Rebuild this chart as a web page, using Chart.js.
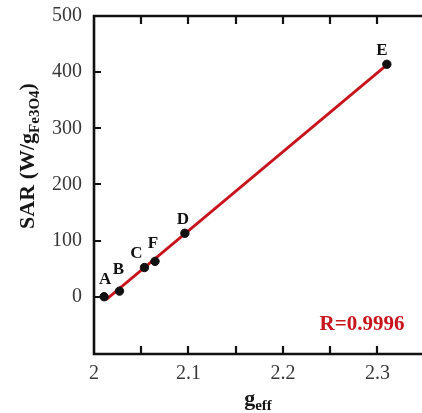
<!DOCTYPE html>
<html><head><meta charset="utf-8">
<script src="https://cdn.jsdelivr.net/npm/chart.js@4"></script>
<style>html,body{margin:0;padding:0;background:#fff;overflow:hidden}#wrap{width:422px;height:413px}</style>
</head><body><div id="wrap"><canvas id="c" width="422" height="413"></canvas></div>
<script>
// Samples: effective g-factor vs specific absorption rate
const sampleNames = ['A', 'B', 'C', 'F', 'D', 'E'];
const gEff = [2.0107, 2.027, 2.0534, 2.0646, 2.0962, 2.310];
const sar = [0, 10, 52, 63, 113, 414];
const xTickLabels = [2.0, 2.1, 2.2, 2.3];
const xMinorTicks = [2.05, 2.1, 2.15, 2.2, 2.25, 2.3];
const yTickLabels = [0, 100, 200, 300, 400, 500];
const fitRange = [2.0125, 2.31];
const rText = 'R=0.9996';

// least-squares line through the samples
function linearFit(xs, ys) {
  const n = xs.length;
  const mx = xs.reduce((a, b) => a + b, 0) / n;
  const my = ys.reduce((a, b) => a + b, 0) / n;
  let sxy = 0, sxx = 0;
  for (let i = 0; i < n; i++) { sxy += (xs[i] - mx) * (ys[i] - my); sxx += (xs[i] - mx) ** 2; }
  const m = sxy / sxx;
  return { m, b: my - m * mx };
}
const fit = linearFit(gEff, sar);
const fitPoints = fitRange.map(x => ({ x, y: fit.m * x + fit.b }));

const SERIF = '"Liberation Serif", "DejaVu Serif", serif';
const RED = '#c8141c';

// label offsets (px) relative to each marker
const labelOffsets = { A: [1, -17], B: [-1, -22], C: [-8, -14], F: [-2, -18], D: [-2, -14], E: [-5, -14] };

function drawParts(ctx, parts, cx, baseline) {
  let total = 0;
  parts.forEach(p => { ctx.font = p.font; p.w = ctx.measureText(p.text).width; total += p.w; });
  let x = cx - total / 2;
  ctx.textAlign = 'left';
  ctx.textBaseline = 'alphabetic';
  parts.forEach(p => { ctx.font = p.font; ctx.fillText(p.text, x, baseline + (p.dy || 0)); x += p.w; });
}

const framePlugin = {
  id: 'frame',
  afterDatasetsDraw(chart) {
    const ctx = chart.ctx;
    ctx.save();
    // point labels
    ctx.fillStyle = '#111';
    ctx.font = 'bold 17px ' + SERIF;
    ctx.textAlign = 'center';
    ctx.textBaseline = 'middle';
    const meta = chart.getDatasetMeta(0);
    meta.data.forEach((el, i) => {
      const name = sampleNames[i];
      const off = labelOffsets[name];
      ctx.fillText(name, el.x + off[0], el.y + off[1]);
    });
    // correlation coefficient
    ctx.fillStyle = RED;
    ctx.font = 'bold 21px ' + SERIF;
    ctx.textAlign = 'center';
    ctx.textBaseline = 'alphabetic';
    ctx.fillText(rText, 362, 329.5);
    ctx.restore();
  },
  afterDraw(chart) {
    const ctx = chart.ctx;
    const { left, top, right, bottom } = chart.chartArea;
    const xs = chart.scales.x, ys = chart.scales.y;
    ctx.save();
    ctx.strokeStyle = '#111';
    ctx.lineWidth = 2.6;
    ctx.lineCap = 'square';
    ctx.beginPath();
    ctx.moveTo(right + 5, top); ctx.lineTo(left, top); ctx.lineTo(left, bottom); ctx.lineTo(right + 5, bottom);
    ctx.stroke();
    ctx.lineWidth = 2.2;
    ctx.lineCap = 'butt';
    ctx.beginPath();
    xMinorTicks.forEach(v => {
      const px = Math.round(xs.getPixelForValue(v));
      ctx.moveTo(px, bottom); ctx.lineTo(px, bottom - 8);
      ctx.moveTo(px, top); ctx.lineTo(px, top + 8);
    });
    yTickLabels.forEach(v => {
      if (v >= 500) return;
      const py = Math.round(ys.getPixelForValue(v));
      ctx.moveTo(left, py); ctx.lineTo(left + 7, py);
    });
    ctx.stroke();

    // axis titles
    ctx.fillStyle = '#161616';
    drawParts(ctx, [
      { text: 'g', font: 'bold 22px ' + SERIF },
      { text: 'eff', font: 'bold 15px ' + SERIF, dy: 5 }
    ], 258, 405);

    ctx.translate(34, 156);
    ctx.rotate(-Math.PI / 2);
    drawParts(ctx, [
      { text: 'SAR (W/g', font: 'bold 22px ' + SERIF },
      { text: 'Fe3O4', font: 'bold 15px ' + SERIF, dy: 5 },
      { text: ')', font: 'bold 22px ' + SERIF }
    ], 0, 0);
    ctx.restore();
  }
};

new Chart(document.getElementById('c'), {
  type: 'scatter',
  data: {
    datasets: [
      {
        label: 'samples',
        data: gEff.map((x, i) => ({ x, y: sar[i] })),
        backgroundColor: '#111',
        borderColor: '#111',
        pointRadius: 4.2,
        order: 0
      },
      {
        label: 'fit',
        type: 'line',
        data: fitPoints,
        borderColor: RED,
        borderWidth: 2.8,
        pointRadius: 0,
        fill: false,
        order: 1
      }
    ]
  },
  options: {
    responsive: false,
    animation: false,
    layout: { padding: { top: 16, right: 0, left: 0, bottom: 0 } },
    plugins: { legend: { display: false }, tooltip: { enabled: false } },
    scales: {
      x: {
        type: 'linear',
        min: 2.0,
        max: 2.3417,
        grid: { display: false, drawTicks: false },
        border: { display: false },
        afterBuildTicks: s => { s.ticks = xTickLabels.map(v => ({ value: v })); },
        afterFit: s => { s.height = 59; s.paddingLeft = 0; s.paddingRight = 0; },
        ticks: {
          padding: 8,
          color: '#383838',
          font: { family: SERIF, size: 20 },
          callback: v => (v === 2 ? '2' : v.toFixed(1))
        }
      },
      y: {
        min: -102,
        max: 500,
        grid: { display: false, drawTicks: false },
        border: { display: false },
        afterBuildTicks: s => { s.ticks = yTickLabels.map(v => ({ value: v })); },
        afterFit: s => { s.width = 94; s.paddingTop = 0; s.paddingBottom = 0; },
        ticks: {
          padding: 12,
          color: '#383838',
          font: { family: SERIF, size: 20 }
        }
      }
    }
  },
  plugins: [framePlugin]
});
</script>
</body></html>
